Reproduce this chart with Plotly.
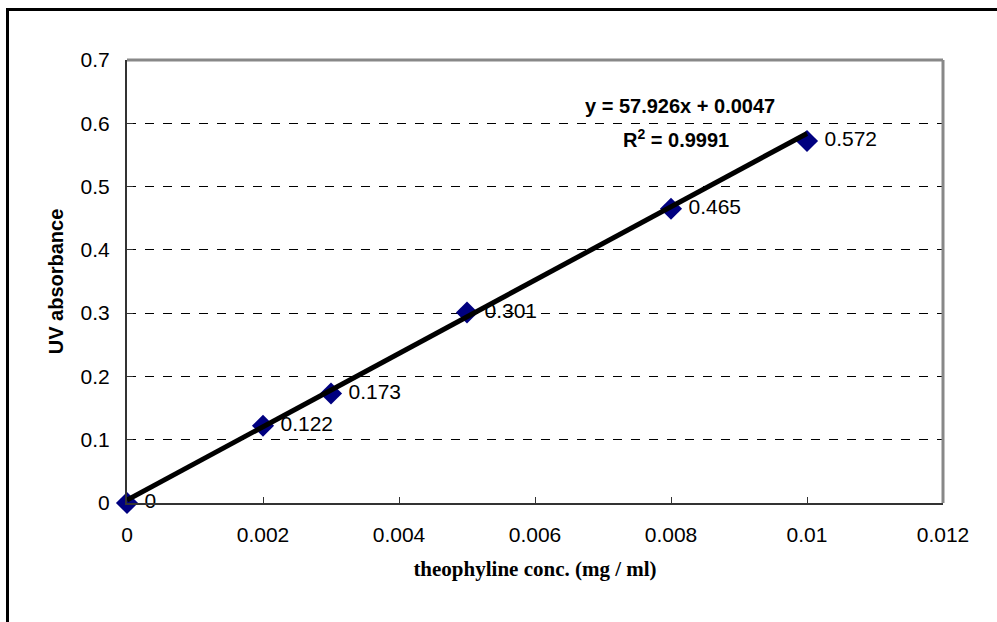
import plotly.graph_objects as go

conc = [0, 0.002, 0.003, 0.005, 0.008, 0.01]
absorb = [0, 0.122, 0.173, 0.301, 0.465, 0.572]
labels = ["0", "0.122", "0.173", "0.301", "0.465", "0.572"]
slope = 57.926
intercept = 0.0047
eq_text = "y = 57.926x + 0.0047"
r2_text = "R<sup>2</sup> = 0.9991"
x_ticks = [0, 0.002, 0.004, 0.006, 0.008, 0.01, 0.012]
x_tick_text = ["0", "0.002", "0.004", "0.006", "0.008", "0.01", "0.012"]
y_ticks = [0, 0.1, 0.2, 0.3, 0.4, 0.5, 0.6, 0.7]
y_tick_text = ["0", "0.1", "0.2", "0.3", "0.4", "0.5", "0.6", "0.7"]

fit_x = [min(conc), max(conc)]
fit_y = [slope * v + intercept for v in fit_x]

ARIAL = "Arial, Liberation Sans"
fig = go.Figure()
fig.add_trace(go.Scatter(
    x=conc, y=absorb, mode="markers+text", text=labels,
    texttemplate=" %{text}",
    textposition="middle right",
    textfont=dict(family=ARIAL, size=21, color="black"),
    marker=dict(symbol="diamond", size=17, color="#000080"),
    cliponaxis=False, showlegend=False, hoverinfo="x+y"))
fig.add_trace(go.Scatter(
    x=fit_x, y=fit_y, mode="lines",
    line=dict(color="black", width=5),
    cliponaxis=False, showlegend=False))

W, H = 997, 622
L, R, T, B = 127, 54, 60, 119
pw, ph = W - L - R, H - T - B

def px_x(p):
    return (p - L) / pw

def px_y(p):
    return (H - B - p) / ph

fig.update_layout(
    width=W, height=H,
    margin=dict(l=L, r=R, t=T, b=B),
    paper_bgcolor="white", plot_bgcolor="white",
    font=dict(family=ARIAL, size=21, color="black"),
    xaxis=dict(range=[0, 0.012], tickvals=x_ticks, ticktext=x_tick_text,
               showgrid=False,
               zeroline=False, showline=True, linecolor="#333333", linewidth=2,
               ticks="inside", ticklen=6, tickcolor="#333333",
               ticklabelstandoff=12,
               tickfont=dict(family=ARIAL, size=21),
               title=dict(text="<b>theophyline conc. (mg / ml)</b>",
                          font=dict(family="Times New Roman, Liberation Serif", size=21),
                          standoff=16)),
    yaxis=dict(range=[0, 0.7], tickvals=y_ticks, ticktext=y_tick_text,
               showgrid=True,
               gridcolor="black", griddash="dash", gridwidth=1,
               zeroline=False, showline=True, linecolor="#333333", linewidth=2,
               ticks="inside", ticklen=6, tickcolor="#333333",
               ticklabelstandoff=11,
               tickfont=dict(family=ARIAL, size=21),
               title=dict(text="<b>UV absorbance</b>",
                          font=dict(family=ARIAL, size=20),
                          standoff=12)),
    shapes=[
        dict(type="line", xref="paper", yref="paper", x0=0, x1=1, y0=1, y1=1,
             line=dict(color="#888888", width=3)),
        dict(type="line", xref="paper", yref="paper", x0=1, x1=1, y0=0, y1=1,
             line=dict(color="#888888", width=3)),
        dict(type="rect", xref="paper", yref="paper",
             x0=px_x(7.5), x1=px_x(1010), y0=px_y(640), y1=px_y(9.5),
             line=dict(color="black", width=3)),
    ],
    annotations=[
        dict(xref="paper", yref="paper", x=px_x(680), y=px_y(106),
             xanchor="center", yanchor="middle",
             text="<b>" + eq_text + "</b>", showarrow=False,
             font=dict(family=ARIAL, size=20)),
        dict(xref="paper", yref="paper", x=px_x(676), y=px_y(138),
             xanchor="center", yanchor="middle",
             text="<b>" + r2_text + "</b>", showarrow=False,
             font=dict(family=ARIAL, size=20)),
    ],
)

fig.write_html("out.html")
